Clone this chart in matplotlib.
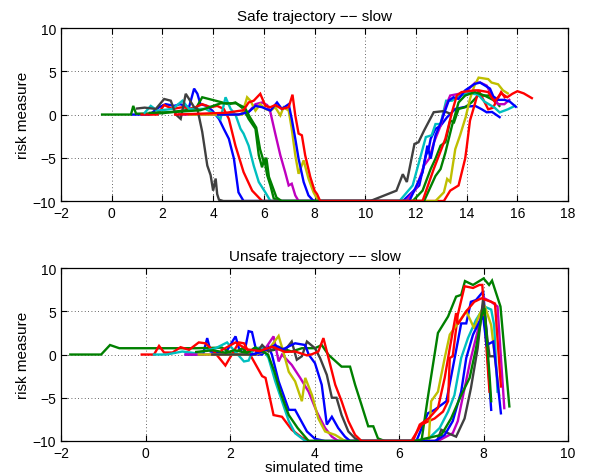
import matplotlib
matplotlib.use("Agg")
import matplotlib.pyplot as plt

plt.rcParams['font.family'] = ['Liberation Sans', 'DejaVu Sans']

# colours (MATLAB classic order)
C_B = '#0000FF'; C_G = '#008000'; C_R = '#FF0000'; C_C = '#00BFBF'
C_M = '#BF00BF'; C_Y = '#BFBF00'; C_K = '#404040'

top_title = "Safe trajectory \u2212\u2212 slow"
bot_title = "Unsafe trajectory \u2212\u2212 slow"
ylabel = "risk measure"
xlabel = "simulated time"
top_xticks = [-2, 0, 2, 4, 6, 8, 10, 12, 14, 16, 18]
bot_xticks = [-2, 0, 2, 4, 6, 8, 10]
yticks = [-10, -5, 0, 5, 10]

# ---------------- top panel (safe) ----------------
t_gray_t = [1.0, 1.3, 1.74, 2.07, 2.33, 2.53, 2.72, 2.92, 3.05, 3.25, 3.38, 3.57, 3.77, 3.9, 4.0, 4.1, 4.16, 4.23, 4.4,
            10.2, 11.23, 11.48, 11.64, 11.94, 12.1, 12.32, 12.7, 13.1, 13.35]
t_gray_y = [0.7, 0.8, 0.65, 1.8, 1.6, 0.0, -0.5, 2.4, 1.8, 0.85, 0.65, -2.0, -5.9, -7.0, -8.8, -7.4, -9.2, -9.85, -10,
            -10, -8.8, -6.9, -7.8, -3.4, -3.2, -1.85, 0.27, 0.4, 0.1]

t_blue1_t = [0.8, 1.5, 1.87, 2.13, 2.46, 2.7, 3.05, 3.25, 3.38, 3.5, 3.75, 3.97, 4.23, 4.42, 4.62, 4.82, 5.0, 5.2,
             11.48, 12.13, 12.39, 12.5, 12.58, 12.77, 12.97, 13.23, 13.55, 13.96, 14.34, 14.6, 14.79, 15.0, 15.3]
t_blue1_y = [0.0, 0.0, 0.85, 1.2, 1.0, 1.2, 0.85, 3.0, 2.4, 1.2, 1.0, 0.45, -0.5, -1.65, -2.8, -5.1, -9.0, -10,
             -10, -8.2, -4.75, -4.0, -2.8, -1.65, -1.3, -0.3, 0.65, 0.9, 1.0, 0.6, 0.26, 0.3, -0.3]

t_green1_t = [-0.38, 0.76, 0.85, 0.96, 2.0, 3.31, 3.57, 4.1, 4.62, 4.88, 5.2, 5.4, 5.67, 5.8, 5.93, 6.02, 6.13, 6.26, 6.39, 6.6,
              11.87, 12.26, 12.58, 12.77, 12.97, 13.16, 13.35, 13.5, 13.68, 13.94, 14.19, 14.45, 14.97, 15.29]
t_green1_y = [0, 0, 1.0, 0.1, 0.15, 0.65, 2.0, 1.6, 1.2, 1.4, 0.65, -0.5, -1.65, -4.7, -6.1, -5.1, -7.0, -8.2, -9.7, -10,
              -10, -8.8, -6.3, -5.1, -3.6, -3.2, -0.7, -0.9, 0.65, 0.85, 1.4, 2.2, 2.2, 1.0]

t_red1_t = [1.18, 1.8, 2.07, 2.4, 2.79, 3.1, 3.31, 3.57, 3.9, 4.16, 4.42, 4.62, 4.88, 5.2, 5.54, 5.93,
            13.1, 13.35, 13.68, 13.94, 14.0, 14.13, 14.32, 14.47, 14.66, 14.85, 15.04, 15.2, 15.36, 15.5]
t_red1_y = [0, 0, 1.1, 0.65, 0.85, 0.7, 0.85, 1.2, 0.85, 1.0, 0.65, -0.5, -3.6, -6.65, -8.8, -10,
            -10, -8.8, -8.2, -5.1, -3.8, -0.7, 1.2, 2.8, 1.7, 0.6, 0.8, 1.7, 2.6, 2.0]

t_cyan_t = [1.3, 1.54, 1.8, 2.4, 2.79, 3.05, 3.7, 4.1, 4.29, 4.49, 4.69, 4.88, 5.08, 5.2, 5.4, 5.6, 5.8, 6.06, 6.26,
            11.35, 11.87, 12.26, 12.39, 12.62, 12.77, 12.97, 13.19, 13.42, 13.61, 14.06, 14.45, 14.7, 15.1, 15.3, 15.62, 15.9]
t_cyan_y = [0.2, 1.0, 0.45, 0.65, 1.6, 0.65, 0.65, 0.0, -0.5, 2.0, 0.65, 0.0, -1.65, -2.2, -3.6, -5.9, -7.8, -9.0, -10,
            -10, -8.2, -4.0, -2.6, -2.4, -1.1, -1.1, 1.6, 1.6, 2.0, 2.5, 2.3, 1.5, 0.8, 0.25, 0.6, 1.0]

t_mag_t = [2.66, 5.0, 5.4, 5.67, 5.93, 6.13, 6.26, 6.45, 6.65, 6.84, 6.98, 7.1, 7.24, 7.37,
           11.61, 12.0, 12.32, 12.52, 12.71, 12.97, 13.16, 13.35, 13.7, 14.03, 14.34, 14.53, 14.79, 14.98, 15.24, 15.49, 15.68]
t_mag_y = [0, 0, 0.3, 1.2, 1.4, 1.1, 0.25, -2.2, -4.7, -6.65, -8.2, -8.0, -9.35, -10,
           -10, -8.6, -5.9, -5.1, -3.2, -1.3, 0.85, 2.2, 2.4, 2.8, 3.7, 3.7, 3.35, 2.26, 1.2, 1.2, 1.7]

t_olive_t = [3.05, 5.14, 5.34, 5.47, 5.67, 5.86, 6.06, 6.26, 6.45, 6.65, 6.78, 6.98, 7.1, 7.24, 7.37, 7.57, 7.76, 7.96, 8.15,
             12.77, 13.1, 13.23, 13.35, 13.55, 13.74, 13.96, 14.13, 14.3, 14.47, 14.85, 14.98, 15.24, 15.43, 15.62]
t_olive_y = [0, 0, 2.0, 1.6, 0.45, 1.2, 0.65, 0.45, 0.85, -0.1, 0.85, 0.45, -1.65, -4.7, -6.85, -5.3, -7.4, -9.0, -10,
             -10, -9.0, -7.45, -7.8, -4.0, -2.4, -0.3, 1.8, 3.3, 4.27, 4.1, 3.7, 3.5, 2.8, 2.45]

t_green2_t = [1.5, 2.5, 3.5, 4.3, 4.9, 5.25, 5.45, 5.7, 5.85, 6.0, 6.1, 6.2, 6.35, 6.5, 6.7,
              12.32, 12.77, 12.97, 13.16, 13.42, 13.68, 13.94, 14.32, 14.7, 15.1]
t_green2_y = [0.2, 0.3, 0.5, 1.3, 1.3, 0.8, -0.3, -1.5, -4.0, -5.5, -5.0, -7.2, -8.4, -9.6, -10,
              -10, -7.1, -6.3, -4.4, -1.3, 1.4, 2.2, 2.6, 2.2, 1.6]

t_blue2_t = [4.2, 5.0, 5.4, 5.67, 5.93, 6.26, 6.52, 6.71, 6.98, 7.1, 7.24, 7.37, 7.57, 7.76, 7.96,
             11.74, 12.26, 12.45, 12.58, 12.77, 12.97, 13.29, 13.48, 13.68, 13.94, 14.32, 14.53, 14.92, 15.05, 15.24, 15.49, 15.7, 15.94]
t_blue2_y = [0, 0, 0.3, 1.0, 0.85, 0.45, 1.4, 0.65, 1.2, -0.5, -2.8, -5.1, -7.8, -9.35, -10,
             -10, -6.7, -3.6, -5.1, -2.4, -1.0, 1.6, 2.0, 1.8, 2.8, 3.55, 3.7, 3.0, 2.1, 1.7, 1.7, 1.5, 0.9]

t_red2_t = [2.5, 4.5, 5.2, 5.4, 5.6, 5.86, 6.06, 6.26, 6.45, 6.71, 6.98, 7.13, 7.24, 7.37, 7.5, 7.63, 7.83, 8.0, 8.1, 8.22,
            12.26, 12.7, 13.16, 13.42, 13.61, 13.8, 14.32, 14.47, 14.85, 15.0, 15.1, 15.36, 15.6, 15.8, 16.0, 16.25, 16.57]
t_red2_y = [0, 0.2, 0.5, 1.4, 1.6, 2.4, 1.0, 0.85, 1.1, 0.65, 0.85, 2.3, -0.1, -2.2, -2.4, -4.7, -7.2, -8.8, -9.2, -10,
            -10, -6.3, -2.8, 0.27, 2.2, 2.6, 2.8, 2.8, 2.6, 1.9, 1.5, 2.45, 2.0, 2.4, 2.7, 2.45, 1.9]

# ---------------- bottom panel (unsafe) ----------------
b_green1_t = [-1.78, -1.05, -0.84, -0.62, 1.19, 1.81, 2.05, 2.29, 2.44, 2.6, 2.76, 3.0, 3.23, 3.46, 3.7, 4.01, 4.17, 4.33,
              4.64, 4.84, 4.96, 5.11, 5.27, 5.39, 5.5, 5.66, 6.53, 6.68, 6.92, 7.16, 7.35, 7.47, 7.56, 7.75, 8.0, 8.13,
              8.2, 8.4, 8.61]
b_green1_y = [0, 0, 1.1, 0.73, 0.73, 0.8, 0.04, 0.73, 0.0, 0.8, 0.5, 0.5, 0.7, 0.35, 0.73, 0.73, 1.1, -0.04,
              -1.4, -1.4, -3.5, -5.8, -8.3, -8.3, -9.7, -10, -10, -5.0, 2.5, 4.4, 6.7, 6.9, 8.5, 8.05, 8.8, 8.05,
              8.55, 5.55, -6.0]

b_red1_t = [-0.09, 0.2, 0.32, 0.44, 0.64, 0.83, 1.03, 1.26, 1.42, 1.62, 1.89, 2.21, 2.33, 2.52, 2.76, 2.84, 3.03, 3.23,
            3.46, 3.7, 3.86, 6.29, 6.53, 6.84, 7.04, 7.16, 7.2, 7.27, 7.39, 7.55, 7.75, 7.9, 7.97, 8.02, 8.14]
b_red1_y = [0, 0, 1.0, 0.23, 0.23, 0.85, 0.54, 1.4, 1.3, 0.35, -1.27, 1.4, 1.3, -0.4, -2.5, -2.7, -7.0, -7.2,
            -8.7, -9.6, -10, -10, -8.1, -7.4, -6.6, -5.4, -0.4, -0.2, 4.6, 7.9, 7.7, 8.05, 8.05, 4.2, -4.3]

b_cyan_t = [0.2, 0.5, 0.87, 1.19, 1.5, 1.66, 1.93, 2.05, 2.33, 2.44, 2.56, 2.76, 2.91, 3.07, 3.23, 3.39, 3.54, 3.78,
            6.64, 6.96, 7.16, 7.31, 7.47, 7.63, 7.82, 8.02, 8.18, 8.25, 8.33]
b_cyan_y = [0, 0, 0.35, 0.15, 0.54, 0.73, 1.4, 0.73, -0.8, -0.7, 0.73, 0.8, -0.4, -3.1, -5.4, -7.7, -9.1, -10,
            -10, -8.5, -6.6, -4.7, -0.4, 1.9, 4.0, 5.55, 5.2, 3.4, -4.3]

b_blue1_t = [0.95, 1.36, 1.46, 1.54, 1.89, 2.13, 2.21, 2.33, 2.44, 2.52, 2.64, 2.76, 2.91, 2.99, 3.15, 3.39, 3.54, 3.82,
             4.01, 4.25, 6.41, 6.68, 6.84, 7.12, 7.24, 7.39, 7.47, 7.59, 7.7, 7.82, 7.99, 8.07, 8.1, 8.18]
b_blue1_y = [0, 0, 1.9, 0.35, 0.15, 2.1, 0.73, 0.0, 2.7, 2.6, 0.0, 0.0, 0.9, 0.0, -3.1, -6.4, -6.4, -8.9,
             -9.75, -10, -10, -6.8, -6.4, -5.4, -2.35, 1.5, 3.6, 3.6, 6.1, 6.3, 7.3, 2.65, -0.6, -6.4]

b_mag_t = [0.95, 2.6, 2.84, 3.03, 3.15, 3.23, 3.46, 3.66, 3.86, 4.05, 4.25, 4.41, 4.56,
           6.92, 7.27, 7.39, 7.55, 7.7, 7.86, 8.02, 8.18, 8.33, 8.49]
b_mag_y = [0, 0, 0.73, 2.1, -0.8, 0, -1.2, -2.7, -4.3, -6.6, -8.5, -9.5, -10,
           -10, -9.1, -7.7, -3.9, -0.4, 2.7, 6.5, 6.1, 5.55, -6.2]

b_olive_t = [1.26, 2.6, 2.9, 3.15, 3.25, 3.39, 3.54, 3.7, 3.78, 3.94, 4.09, 4.25, 4.49, 4.72,
             6.7, 6.76, 6.92, 7.08, 7.2, 7.39, 7.59, 7.78, 7.9, 8.02, 8.18, 8.37]
b_olive_y = [0, 0, 0.5, 2.15, 0.5, -2.0, -3.1, -5.4, -2.7, -4.7, -7.4, -8.9, -9.3, -10,
             -10, -5.4, -4.3, -0.4, 2.3, 3.6, 5.0, 3.0, 4.6, 5.7, 3.4, -4.7]

b_gray_t = [1.58, 2.6, 2.76, 2.91, 3.15, 3.3, 3.46, 3.58, 3.7, 3.82, 4.01, 4.13, 4.29, 4.41, 4.52, 4.64, 4.8, 4.96, 5.11,
            6.9, 7.0, 7.16, 7.35, 7.55, 7.7, 7.86, 7.99, 8.07, 8.14, 8.25]
b_gray_y = [0, 0, 1.1, 0.35, 0.9, 0.5, 1.5, -0.6, -0.2, 1.5, 0.73, -0.4, -2.35, -5.0, -5.0, -7.0, -8.9, -9.7, -10,
            -10, -8.7, -9.1, -9.5, -7.4, -3.9, 0.73, 6.5, 2.65, -0.2, -0.2]

b_green2_t = [1.2, 1.6, 1.9, 2.1, 2.4, 2.6, 2.9, 3.05, 3.2, 3.39, 3.6, 3.86,
              6.37, 7.0, 7.23, 7.47, 7.67, 7.82, 7.96, 8.02, 8.14, 8.18]
b_green2_y = [0.3, 0.5, 0.2, 0.5, 0.2, 0.8, 0.0, -2.0, -4.5, -7.0, -8.5, -10,
              -10, -9.3, -7.4, -4.7, -2.7, 0.7, 4.6, 5.35, -2.35, -5.4]

b_blue2_t = [2.5, 2.76, 3.07, 3.23, 3.54, 3.78, 3.86, 4.01, 4.17, 4.29, 4.41, 4.56, 4.72, 4.84,
             6.85, 7.08, 7.27, 7.47, 7.59, 7.75, 7.9, 7.99, 8.07, 8.23, 8.41]
b_blue2_y = [0, 0.3, 1.1, 0.55, 1.3, 1.1, 0, -1.0, -3.5, -8.1, -7.2, -8.5, -9.5, -10,
             -10, -9.3, -7.7, -4.3, -0.4, 2.3, 3.8, 4.4, 1.1, 1.5, -6.8]

b_red2_t = [1.8, 2.13, 2.4, 2.7, 3.0, 3.3, 3.54, 3.82, 3.94, 4.09, 4.21, 4.33, 4.49, 4.64, 4.8, 4.96, 5.11,
            6.33, 6.49, 6.7, 6.92, 7.08, 7.2, 7.35, 7.39, 7.59, 7.78, 7.95, 8.18, 8.27, 8.41]
b_red2_y = [0.5, 1.4, 0.6, 0.4, 0.9, 0.3, 0.35, -0.1, 0.04, 0.35, 1.9, -0.4, -3.5, -5.4, -7.7, -9.3, -10,
            -10, -8.1, -7.4, -6.2, -2.7, 0.73, 4.8, 3.5, 5.0, 6.1, 6.5, 6.1, 5.9, -3.7]

top_series = [
    (t_blue1_t, t_blue1_y, C_B), (t_green1_t, t_green1_y, C_G), (t_red1_t, t_red1_y, C_R),
    (t_cyan_t, t_cyan_y, C_C), (t_mag_t, t_mag_y, C_M), (t_olive_t, t_olive_y, C_Y),
    (t_gray_t, t_gray_y, C_K), (t_blue2_t, t_blue2_y, C_B), (t_green2_t, t_green2_y, C_G),
    (t_red2_t, t_red2_y, C_R),
]
bot_series = [
    (b_blue1_t, b_blue1_y, C_B), (b_green1_t, b_green1_y, C_G), (b_red1_t, b_red1_y, C_R),
    (b_cyan_t, b_cyan_y, C_C), (b_mag_t, b_mag_y, C_M), (b_olive_t, b_olive_y, C_Y),
    (b_gray_t, b_gray_y, C_K), (b_blue2_t, b_blue2_y, C_B), (b_green2_t, b_green2_y, C_G),
    (b_red2_t, b_red2_y, C_R),
]

fig = plt.figure(figsize=(5.98, 4.77), dpi=100)
ax1 = fig.add_axes([0.102, 0.5765, 0.848, 0.3625])
ax2 = fig.add_axes([0.102, 0.0734, 0.848, 0.3625])

def style(ax, xticks, title):
    ax.set_xlim(xticks[0], xticks[-1])
    ax.set_ylim(-10, 10)
    ax.set_xticks(xticks)
    ax.set_yticks(yticks)
    ax.grid(True, linestyle=(0, (1, 3)), color='black', linewidth=0.6, alpha=0.8)
    ax.tick_params(direction='in', top=True, right=True, length=4, width=0.8, labelsize=10)
    for s in ax.spines.values():
        s.set_linewidth(0.9)
    ax.set_title(title, fontsize=11, pad=6)
    ax.set_ylabel(ylabel, fontsize=11, labelpad=2)

for t, y, c in top_series:
    ax1.plot(t, y, color=c, linewidth=1.7, solid_joinstyle='miter')
for t, y, c in bot_series:
    ax2.plot(t, y, color=c, linewidth=1.7, solid_joinstyle='miter')

style(ax1, top_xticks, top_title)
style(ax2, bot_xticks, bot_title)
ax2.set_xlabel(xlabel, fontsize=11, labelpad=0)

fig.savefig("out.png", dpi=100)
